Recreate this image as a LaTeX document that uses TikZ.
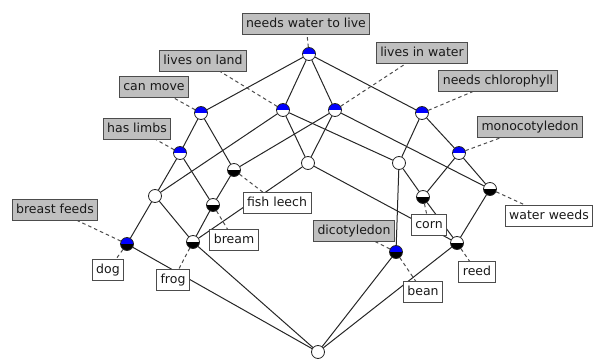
\documentclass[tikz,border=0pt]{standalone}
\usepackage{fontspec}
\setmainfont{DejaVu Sans}
\pgfdeclarelayer{background}
\pgfsetlayers{background,main}
\tikzset{
  concept/.style={draw=black!85,circle,line width=0.8pt,fill=white,minimum size=13pt,inner sep=0pt},
  attr/.style={concept,path picture={\fill[blue] (path picture bounding box.west) rectangle (path picture bounding box.north east);}},
  obj/.style={concept,path picture={\fill[black] (path picture bounding box.west) rectangle (path picture bounding box.south east);}},
  attrobj/.style={concept,path picture={\fill[blue] (path picture bounding box.west) rectangle (path picture bounding box.north east);
      \fill[black] (path picture bounding box.west) rectangle (path picture bounding box.south east);}},
  tag/.style={draw=black!70,line width=0.9pt,text=black!90,font=\fontsize{12.5}{15}\selectfont,
      inner xsep=4pt,inner ysep=4pt,text height=9.5pt,text depth=3pt},
  attrtag/.style={tag,fill=black!25},
  objtag/.style={tag,fill=white},
  edge/.style={draw=black!85,line width=1pt},
  lead/.style={draw=black!70,line width=1pt,dash pattern=on 3.5pt off 3pt}
}
\begin{document}
\begin{tikzpicture}[x=1pt,y=-1pt]
\useasboundingbox (0,0) rectangle (595,359);

% concepts
\node[attr](top) at (309,54){};
\node[attr](land) at (283,110){};
\node[attr](water) at (335,110){};
\node[attr](move) at (201,113){};
\node[attr](chloro) at (422,113){};
\node[attr](limbs) at (180,153){};
\node[attr](mono) at (459,153){};
\node[obj](fish) at (234,170){};
\node[concept](lw) at (308,163){};
\node[concept](lc) at (399,163){};
\node[obj](weeds) at (490,189){};
\node[obj](corn) at (423,197){};
\node[concept](lm) at (155,196){};
\node[obj](bream) at (213,205){};
\node[attrobj](dog) at (127,244){};
\node[obj](frog) at (193,242){};
\node[attrobj](bean) at (396,252){};
\node[obj](reed) at (457,243){};
\node[concept](bot) at (318,352){};

% attribute labels
\node[attrtag](tneeds) at (306,24){needs water to live};
\node[attrtag](tland) at (203,61){lives on land};
\node[attrtag](twater) at (422,53){lives in water};
\node[attrtag](tmove) at (154,87){can move};
\node[attrtag](tchloro) at (498,81){needs chlorophyll};
\node[attrtag](tlimbs) at (137,129){has limbs};
\node[attrtag](tmono) at (530,127){monocotyledon};
\node[attrtag](tbreast) at (55,210){breast feeds};
\node[attrtag](tdico) at (354,231){dicotyledon};

% object labels
\node[objtag](tdog) at (108,270){dog};
\node[objtag](tfrog) at (173,280){frog};
\node[objtag](tbream) at (234,240){bream};
\node[objtag](tfish) at (277,203){fish leech};
\node[objtag](tcorn) at (429,225){corn};
\node[objtag](tweeds) at (549,216){water weeds};
\node[objtag](treed) at (477,272){reed};
\node[objtag](tbean) at (423,292){bean};

\begin{pgfonlayer}{background}
% lattice lines
\draw[edge] (top) -- (land);
\draw[edge] (top) -- (water);
\draw[edge] (top) -- (move);
\draw[edge] (top) -- (chloro);
\draw[edge] (land) -- (lw);
\draw[edge] (land) -- (lc);
\draw[edge] (land) -- (lm);
\draw[edge] (water) -- (fish);
\draw[edge] (water) -- (lw);
\draw[edge] (water) -- (weeds);
\draw[edge] (move) -- (limbs);
\draw[edge] (move) -- (fish);
\draw[edge] (chloro) -- (mono);
\draw[edge] (chloro) -- (lc);
\draw[edge] (limbs) -- (lm);
\draw[edge] (limbs) -- (bream);
\draw[edge] (fish) -- (bream);
\draw[edge] (mono) -- (weeds);
\draw[edge] (mono) -- (corn);
\draw[edge] (lw) -- (frog);
\draw[edge] (lw) -- (reed);
\draw[edge] (lc) -- (corn);
\draw[edge] (lc) -- (bean);
\draw[edge] (lm) -- (dog);
\draw[edge] (lm) -- (frog);
\draw[edge] (bream) -- (frog);
\draw[edge] (weeds) -- (reed);
\draw[edge] (corn) -- (reed);
\draw[edge] (dog) -- (bot);
\draw[edge] (frog) -- (bot);
\draw[edge] (bean) -- (bot);
\draw[edge] (reed) -- (bot);

% label leads
\draw[lead] (top) -- (tneeds);
\draw[lead] (land) -- (tland);
\draw[lead] (water) -- (twater);
\draw[lead] (move) -- (tmove);
\draw[lead] (chloro) -- (tchloro);
\draw[lead] (limbs) -- (tlimbs);
\draw[lead] (mono) -- (tmono);
\draw[lead] (dog) -- (tbreast);
\draw[lead] (bean) -- (tdico);
\draw[lead] (dog) -- (tdog);
\draw[lead] (frog) -- (tfrog);
\draw[lead] (bream) -- (tbream);
\draw[lead] (fish) -- (tfish);
\draw[lead] (corn) -- (tcorn);
\draw[lead] (weeds) -- (tweeds);
\draw[lead] (reed) -- (treed);
\draw[lead] (bean) -- (tbean);
\end{pgfonlayer}
\end{tikzpicture}
\end{document}
